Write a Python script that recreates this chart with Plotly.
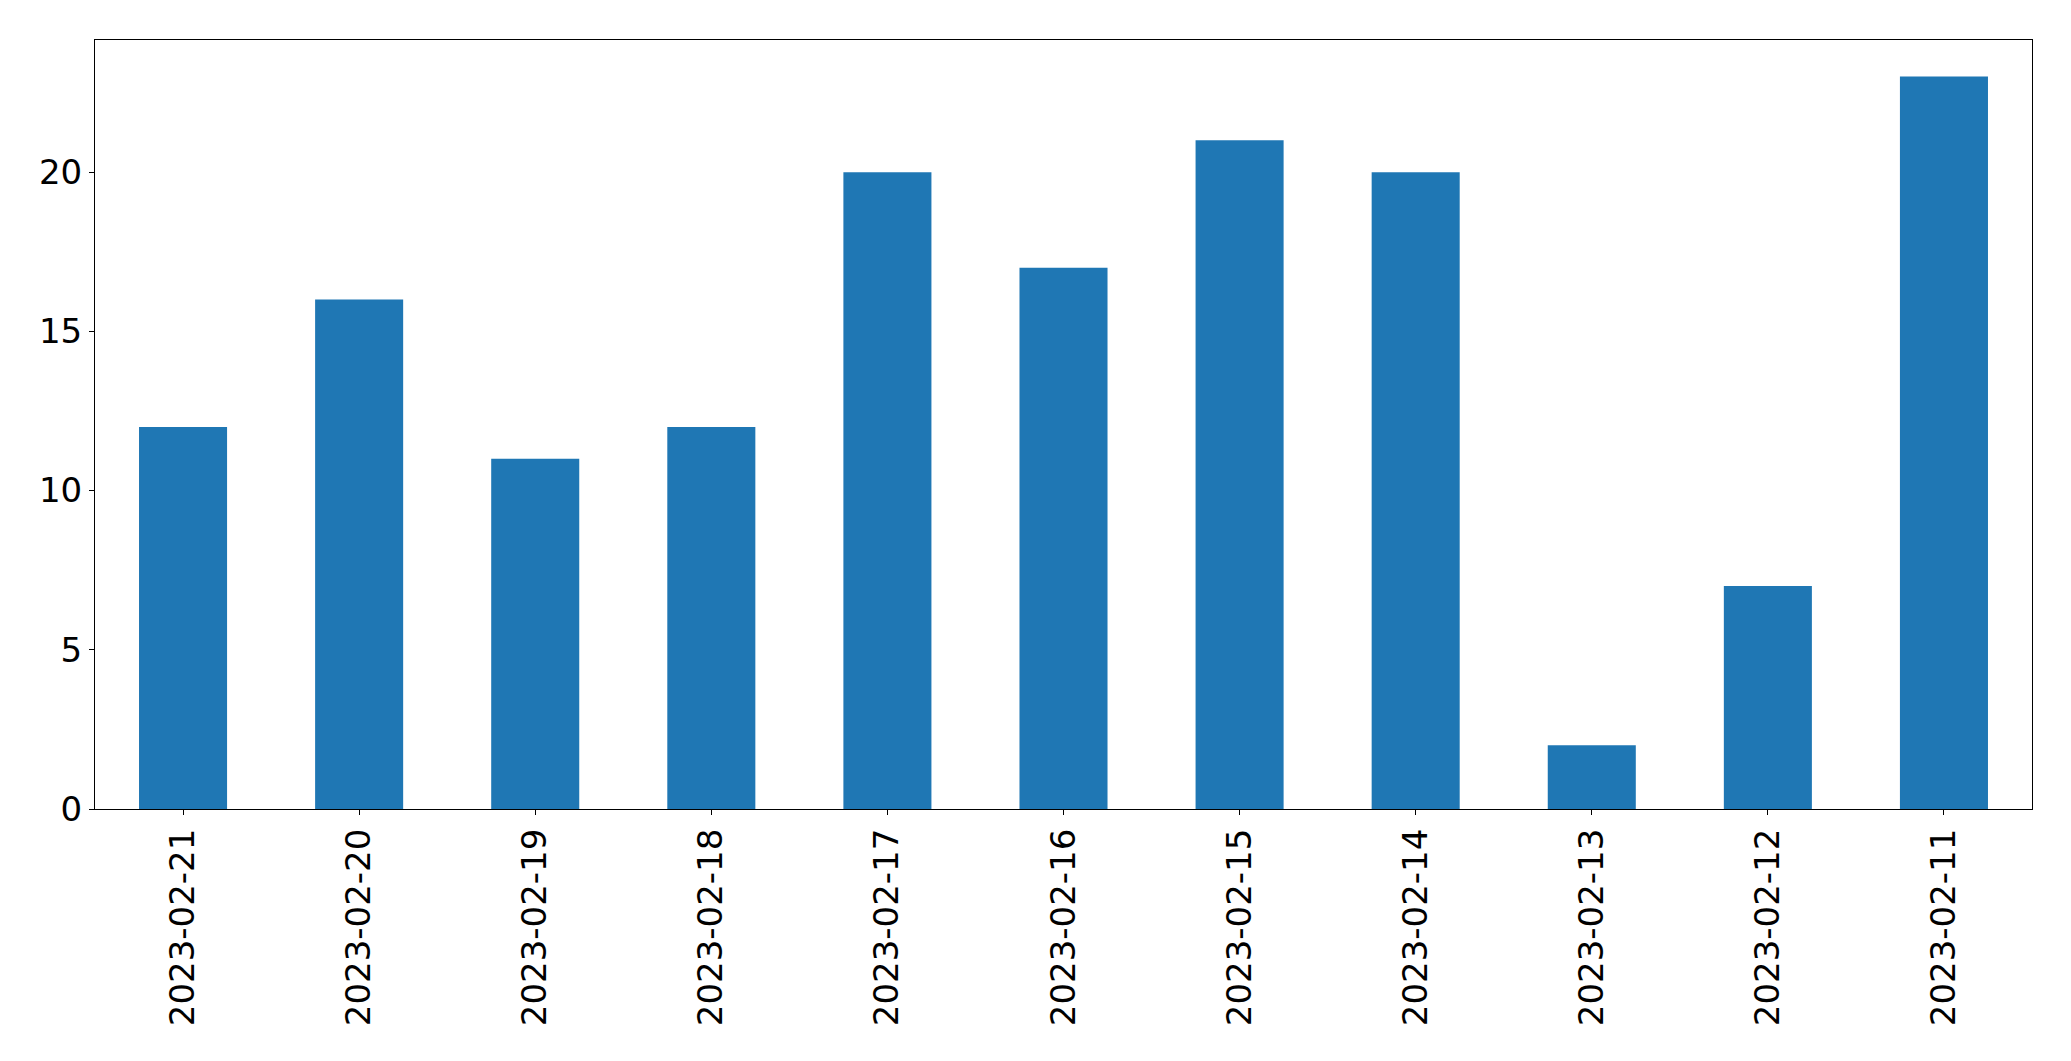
import plotly.graph_objects as go

dates = ["2023-02-21", "2023-02-20", "2023-02-19", "2023-02-18", "2023-02-17",
         "2023-02-16", "2023-02-15", "2023-02-14", "2023-02-13", "2023-02-12",
         "2023-02-11"]
counts = [12, 16, 11, 12, 20, 17, 21, 20, 2, 7, 23]
y_ticks = [0, 5, 10, 15, 20]

fig = go.Figure(go.Bar(x=dates, y=counts, marker=dict(color="#1f77b4", line=dict(width=0)), width=0.5))

axis_common = dict(showline=True, mirror=True, linecolor="black", linewidth=1.1,
                   showgrid=False, zeroline=False, ticks="outside", ticklen=5,
                   tickwidth=1.1, tickcolor="black")

fig.update_layout(
    width=2063, height=1053,
    margin=dict(l=86.5, r=39.3, t=31.5, b=252, autoexpand=False),
    paper_bgcolor="white", plot_bgcolor="white",
    font=dict(family="DejaVu Sans", size=34, color="black"),
    showlegend=False,
    xaxis=dict(type="category", range=[-0.5, 10.5], tickangle=-90,
               tickfont=dict(size=34), **axis_common),
    yaxis=dict(range=[0, 24.15], tickvals=y_ticks, ticktext=[str(v) for v in y_ticks],
               tickfont=dict(size=34), **axis_common),
)

fig.write_html("out.html")
